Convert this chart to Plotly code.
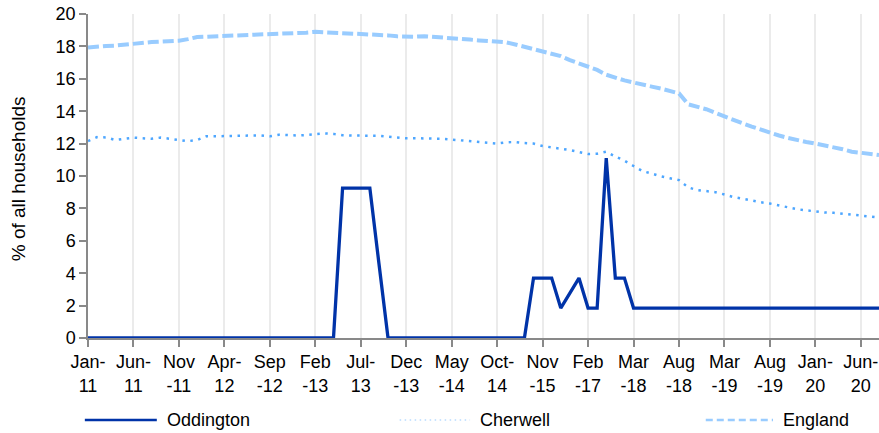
import plotly.graph_objects as go

categories = [
    "Jan-11", "Feb-11", "Mar-11", "Apr-11", "May-11", "Jun-11", "Jul-11", "Aug-11", "Sep-11", "Oct-11",
    "Nov-11", "Dec-11", "Jan-12", "Feb-12", "Mar-12", "Apr-12", "May-12", "Jun-12", "Jul-12", "Aug-12",
    "Sep-12", "Oct-12", "Nov-12", "Dec-12", "Jan-13", "Feb-13", "Mar-13", "Apr-13", "May-13", "Jun-13",
    "Jul-13", "Aug-13", "Sep-13", "Oct-13", "Nov-13", "Dec-13", "Jan-14", "Feb-14", "Mar-14", "Apr-14",
    "May-14", "Jun-14", "Jul-14", "Aug-14", "Sep-14", "Oct-14", "Dec-14", "Mar-15", "Jun-15", "Sep-15",
    "Nov-15", "Feb-16", "May-16", "Aug-16", "Nov-16", "Feb-17", "May-17", "Aug-17", "Nov-17", "Jan-18",
    "Mar-18", "Apr-18", "May-18", "Jun-18", "Jul-18", "Aug-18", "Oct-18", "Nov-18", "Dec-18", "Feb-19",
    "Mar-19", "Apr-19", "May-19", "Jun-19", "Jul-19", "Aug-19", "Sep-19", "Oct-19", "Nov-19", "Dec-19",
    "Jan-20", "Feb-20", "Mar-20", "Apr-20", "May-20", "Jun-20", "Jul-20", "Aug-20",
]

oddington = (
    [0] * 28
    + [9.25, 9.25, 9.25, 9.25, 4.6]
    + [0] * 16
    + [3.7, 3.7, 3.7, 1.85, 2.78, 3.7, 1.85, 1.85, 11.1, 3.7, 3.7]
    + [1.85] * 28
)

cherwell = [
    12.16, 12.4, 12.38, 12.22, 12.3, 12.37, 12.33, 12.3, 12.37, 12.3,
    12.2, 12.15, 12.22, 12.45, 12.45, 12.47, 12.48, 12.5, 12.5, 12.5,
    12.45, 12.55, 12.52, 12.5, 12.53, 12.6, 12.63, 12.6, 12.52, 12.5,
    12.5, 12.5, 12.48, 12.43, 12.37, 12.33, 12.33, 12.33, 12.33, 12.3,
    12.25, 12.2, 12.16, 12.1, 12.05, 12.0, 12.08, 12.1, 12.03, 12.0,
    11.85, 11.75, 11.68, 11.6, 11.5, 11.36, 11.38, 11.5, 11.2, 10.95,
    10.62, 10.3, 10.15, 9.98, 9.86, 9.75, 9.3, 9.13, 9.07, 9.0,
    8.86, 8.7, 8.6, 8.47, 8.38, 8.3, 8.18, 8.05, 7.95, 7.88,
    7.8, 7.75, 7.73, 7.68, 7.6, 7.55, 7.5, 7.43,
]

england = [
    17.93, 18.0, 18.03, 18.05, 18.12, 18.18, 18.22, 18.27, 18.3, 18.33,
    18.35, 18.45, 18.58, 18.6, 18.62, 18.65, 18.68, 18.7, 18.73, 18.75,
    18.75, 18.78, 18.8, 18.82, 18.85, 18.9, 18.88, 18.85, 18.82, 18.8,
    18.76, 18.74, 18.72, 18.68, 18.62, 18.6, 18.6, 18.63, 18.6, 18.55,
    18.5, 18.47, 18.42, 18.37, 18.33, 18.3, 18.25, 18.12, 17.98, 17.85,
    17.72, 17.56, 17.4, 17.15, 16.96, 16.8, 16.55, 16.25, 16.05, 15.9,
    15.77, 15.62, 15.52, 15.4, 15.25, 15.1, 14.43, 14.3, 14.12, 13.9,
    13.67, 13.45, 13.25, 13.05, 12.85, 12.68, 12.5, 12.35, 12.2, 12.1,
    12.0, 11.9, 11.75, 11.65, 11.5, 11.44, 11.38, 11.3,
]

tick_labels = [
    "Jan-<br>11", "Jun-<br>11", "Nov<br>-11", "Apr-<br>12", "Sep<br>-12", "Feb<br>-13",
    "Jul-<br>13", "Dec<br>-13", "May<br>-14", "Oct-<br>14", "Nov<br>-15", "Feb<br>-17",
    "Mar<br>-18", "Aug<br>-18", "Mar<br>-19", "Aug<br>-19", "Jan-<br>20", "Jun-<br>20",
]

series_names = ["Oddington", "Cherwell", "England"]
y_title = "% of all households"

C_ODD = "#0033a8"
C_CHE = "#4da6ff"
C_ENG = "#99ccff"

fig = go.Figure()
fig.add_trace(go.Scatter(x=categories, y=england, mode="lines", name=series_names[2],
                         line=dict(color=C_ENG, width=4, dash="11px,4px"), showlegend=False))
fig.add_trace(go.Scatter(x=categories, y=cherwell, mode="lines", name=series_names[1],
                         line=dict(color=C_CHE, width=2.5, dash="2.5px,5.5px"), showlegend=False))
fig.add_trace(go.Scatter(x=categories, y=oddington, mode="lines", name=series_names[0],
                         line=dict(color=C_ODD, width=3.3), showlegend=False))

FONT = "Liberation Sans, Arial, sans-serif"

fig.update_layout(
    width=879, height=433,
    margin=dict(l=88, r=0, t=14, b=95),
    paper_bgcolor="white", plot_bgcolor="white",
    font=dict(family=FONT, size=18, color="#000000"),
    xaxis=dict(
        type="category",
        range=[0, len(categories) - 1],
        tickmode="array",
        tickvals=categories[::5],
        ticktext=tick_labels,
        tickangle=0,
        showgrid=True, gridcolor="#ebebeb", gridwidth=1.5,
        showline=True, linecolor="#898989", linewidth=1.5,
        ticks="outside", ticklen=7, tickcolor="#898989", tickwidth=1.5,
        tickfont=dict(size=18),
        zeroline=False,
    ),
    yaxis=dict(
        range=[0, 20],
        tickvals=[0, 2, 4, 6, 8, 10, 12, 14, 16, 18, 20],
        showgrid=False,
        showline=True, linecolor="#898989", linewidth=1.5,
        ticks="outside", ticklen=7, tickcolor="#898989", tickwidth=1.5,
        tickfont=dict(size=18),
        zeroline=False,
    ),
)

# y-axis title
fig.add_annotation(xref="paper", yref="paper", x=-70 / 791, y=0.49, text=y_title,
                   textangle=-90, showarrow=False, xanchor="center", yanchor="middle",
                   font=dict(size=19, family=FONT, color="#000000"))

# legend keys drawn beneath the plot
leg_y = -0.253
keys = [
    (series_names[0], -0.004, 0.087, dict(color=C_ODD, width=2.5)),
    (series_names[1], 0.394, 0.483, dict(color="#b8dcff", width=1.5, dash="1.5px,3.5px")),
    (series_names[2], 0.781, 0.866, dict(color=C_ENG, width=2.5, dash="7px,4px")),
]
for name, x0, x1, ln in keys:
    fig.add_shape(type="line", xref="paper", yref="paper", x0=x0, x1=x1, y0=leg_y, y1=leg_y, line=ln)
    fig.add_annotation(xref="paper", yref="paper", x=x1 + 0.01, y=leg_y, text=name,
                       showarrow=False, xanchor="left", yanchor="middle",
                       font=dict(size=18, family=FONT, color="#000000"))

fig.write_html(
    "out.html",
    config={"displayModeBar": False},
    post_script="document.body.style.margin='0';document.body.style.overflow='hidden';",
)
